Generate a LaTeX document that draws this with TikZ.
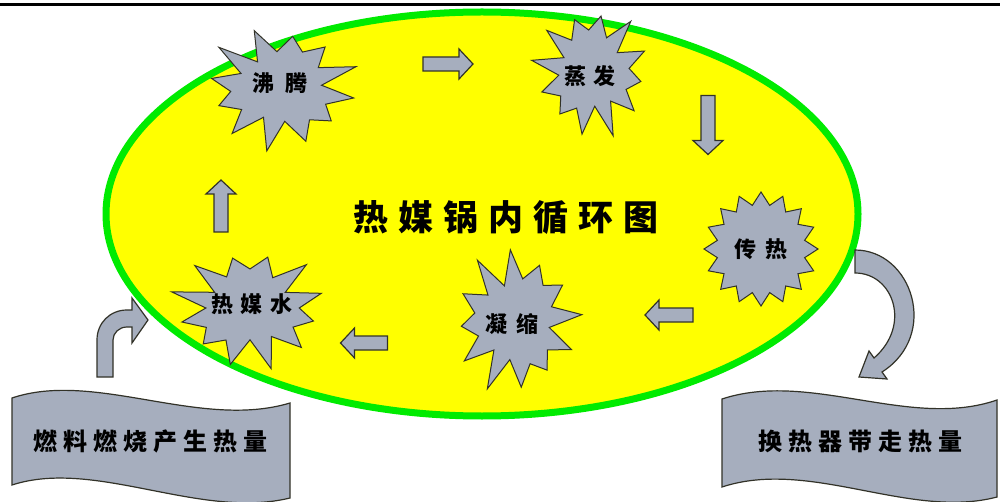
\documentclass[tikz,border=0pt]{standalone}
\usepackage{fontspec}
\newfontfamily\cjk{Noto Sans CJK SC}
\definecolor{sgray}{RGB}{166,174,190}
\definecolor{edge}{RGB}{50,50,40}
\definecolor{ylw}{RGB}{255,255,0}
\definecolor{grn}{RGB}{0,235,0}
% center x, center y, rx, ry, points, inner ratio, rotation, jitter
\newcommand\burst[8]{%
  \draw[burst] plot[domain=0:{2*#5-1}, samples={2*#5}, variable=\k]
   ({#1+#3*(1-(1-#6)*mod(round(\k),2))*(1-#8+#8*sin(\k*137))*cos(\k*180/#5+#7)},
    {#2+#4*(1-(1-#6)*mod(round(\k),2))*(1-#8+#8*sin(\k*137))*sin(\k*180/#5+#7)}) -- cycle;}
\tikzset{
  burst/.style={fill=sgray, draw=edge, line width=1pt, line join=miter},
  blk/.style={fill=sgray, draw=edge, line width=1.2pt, line join=miter},
  lbl/.style={font=\cjk\bfseries\fontsize{22}{22}\selectfont, inner sep=0pt},
  barrow/.pic={\draw[blk] ({-#1/2},-7) -- ({#1/2-14},-7) -- ({#1/2-14},-15) -- ({#1/2},0) -- ({#1/2-14},15) -- ({#1/2-14},7) -- ({-#1/2},7) -- cycle;}
}
\begin{document}
\begin{tikzpicture}[x=1pt,y=-1pt]
\useasboundingbox (0,0) rectangle (1000,502);
\fill[white] (0,0) rectangle (1000,502);
% top rule
\draw[line width=3pt] (0,5) -- (1000,5);
% ellipse
\draw[fill=ylw, draw=grn, line width=7pt] (482,214) ellipse [x radius=376, y radius=202];
% bursts
\burst{281}{88}{82}{64}{12}{0.62}{10}{0.1}
\burst{592}{72}{62}{68}{12}{0.62}{-20}{0.1}
\burst{761}{249}{57}{57}{16}{0.78}{0}{0}
\burst{516}{321}{68}{75}{12}{0.62}{25}{0.1}
\burst{250}{308}{82}{63}{12}{0.62}{-15}{0.1}
% texts in bursts
\node[lbl] (feiteng) at (280,83) {沸\hspace{12pt}腾};
\node[lbl] (zhengfa) at (590,76) {蒸\hspace{8pt}发};
\node[lbl] (chuanre) at (761,249) {传\hspace{9pt}热};
\node[lbl] (ningsuo) at (512,324) {凝\hspace{10pt}缩};
\node[lbl] (remeishui) at (252,304) {热\hspace{8pt}媒\hspace{8pt}水};
% title
\node[font=\cjk\bfseries\fontsize{35}{35}\selectfont, inner sep=0pt] (title) at (506,217)
  {热\hspace{10pt}媒\hspace{10pt}锅\hspace{10pt}内\hspace{10pt}循\hspace{10pt}环\hspace{10pt}图};
% block arrows
\pic at (448,64) {barrow=50};
\pic[rotate=-90] at (708,125) {barrow=59};
\pic[rotate=180] at (669,315) {barrow=48};
\pic[rotate=180] at (364,343) {barrow=47};
\pic[rotate=90] at (221,206) {barrow=52};
% bent arrow from fuel banner
\draw[blk] (97,377) -- (97,340) .. controls (97,323) and (110,310) .. (127,310) -- (132,310) -- (132,298) -- (148,320) -- (132,343) -- (132,327) -- (127,327) .. controls (119,327) and (113,333) .. (113,340) -- (113,377) -- cycle;
% curved arrow to heat exchanger banner
\draw[blk] (855,250) .. controls (912,250) and (940,335) .. (882,372) -- (887,379) -- (859,377) -- (869,351) -- (874,358) .. controls (912,325) and (893,273) .. (855,273) -- cycle;
% banners
\draw[blk] (12,398) .. controls (95,370) and (200,430) .. (290,403) -- (290,498) .. controls (200,520) and (95,458) .. (12,485) -- cycle;
\draw[blk] (722,399) .. controls (810,370) and (910,430) .. (997,400) -- (997,497) .. controls (910,520) and (810,458) .. (722,487) -- cycle;
\node[font=\cjk\bfseries\fontsize{24}{24}\selectfont, inner sep=0pt] (fuel) at (150,441)
  {燃\hspace{6pt}料\hspace{6pt}燃\hspace{6pt}烧\hspace{6pt}产\hspace{6pt}生\hspace{6pt}热\hspace{6pt}量};
\node[font=\cjk\bfseries\fontsize{24}{24}\selectfont, inner sep=0pt] (heat) at (860,441)
  {换\hspace{6pt}热\hspace{6pt}器\hspace{6pt}带\hspace{6pt}走\hspace{6pt}热\hspace{6pt}量};
\end{tikzpicture}
\end{document}
